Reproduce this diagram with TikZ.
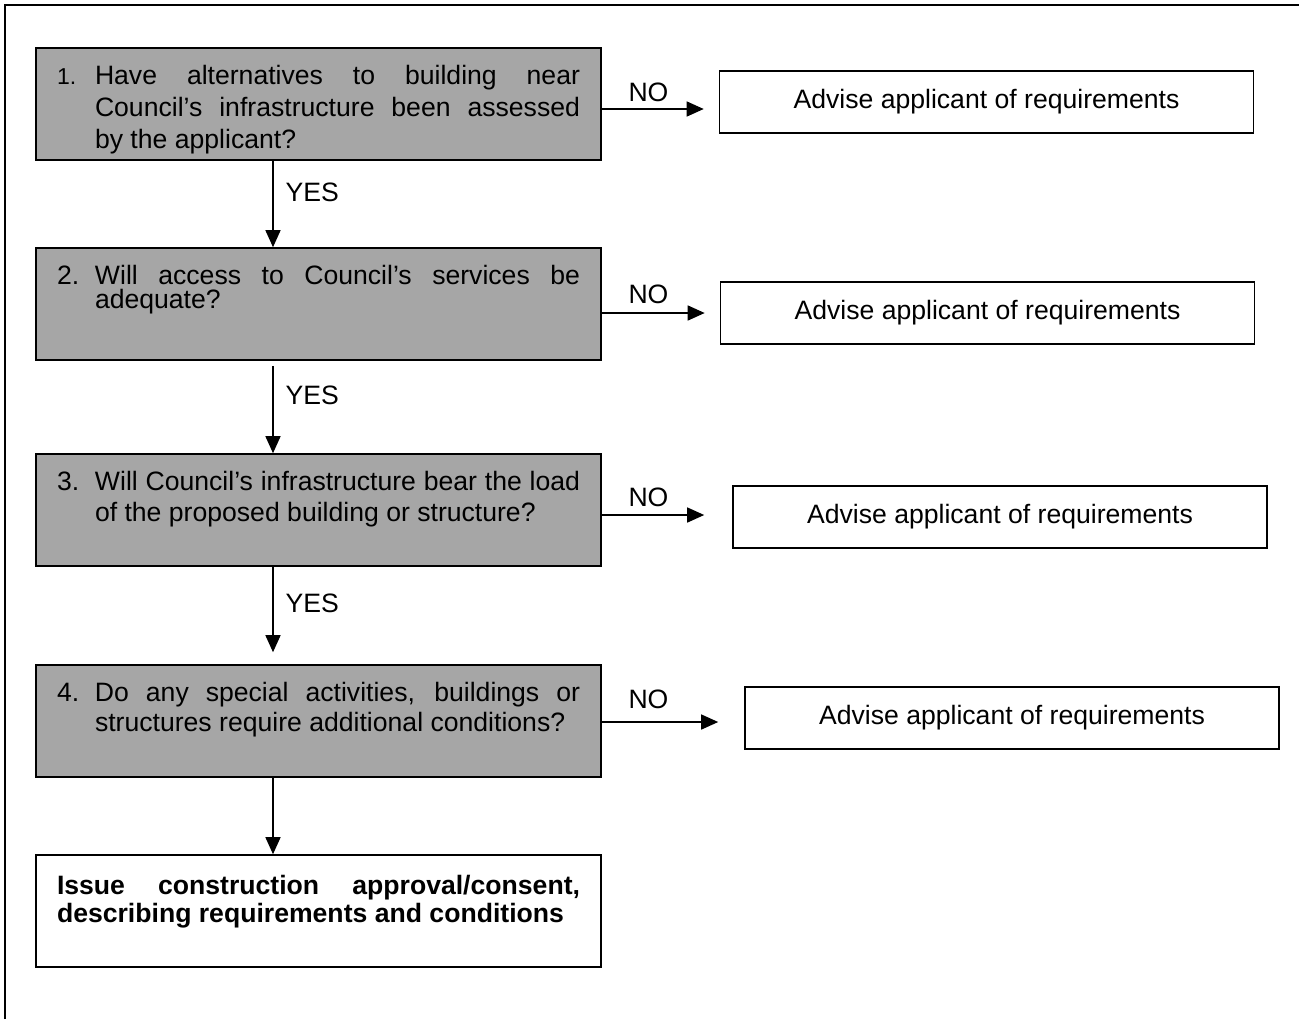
\documentclass[tikz,border=0pt]{standalone}
\usepackage{fontspec}
\setmainfont{Liberation Sans}
\usetikzlibrary{arrows.meta}
\definecolor{qgrey}{RGB}{166,166,166}
\tikzset{>={Triangle[length=8.5pt,width=7.5pt]}}
\tikzset{
  question/.style = {draw, line width=0.8pt, fill=qgrey, inner xsep=10.5pt, inner ysep=8.25pt},
  advise/.style = {draw, line width=0.8pt, minimum width=267pt, minimum height=31pt, inner sep=0pt},
  flow/.style = {->, line width=0.7pt},
  answer/.style = {inner sep=0pt}
}
% #1 line spacing, #2 number, #3 question
\newcommand{\qtext}[3]{%
  \parbox[c][39.5pt][t]{261.5pt}{\fontsize{13.3}{#1}\selectfont
    \hangindent=19pt\hangafter=1
    \rule{0pt}{10pt}\makebox[19pt][l]{#2}#3}}

\begin{document}
\begin{tikzpicture}[x=0.5pt,y=-0.5pt,font=\fontsize{13.3}{16}\selectfont]
  \useasboundingbox (0,0) rectangle (1299,1019);
  % frame
  \draw[line width=1pt] (5,1019) -- (5,5) -- (1299,5);
  % questions
  \node[question] (q1) at (318.5,104) {\qtext{16pt}{{\fontsize{11.5}{16}\selectfont 1.}}{Have alternatives to building near\linebreak Council’s infrastructure been assessed\linebreak by the applicant?}};
  \node[question] (q2) at (318.5,304) {\qtext{12pt}{2.}{Will access to Council’s services be\linebreak adequate?}};
  \node[question] (q3) at (318.5,510) {\qtext{15.5pt}{3.}{Will Council’s infrastructure bear the load\linebreak of the proposed building or structure?}};
  \node[question] (q4) at (318.5,721) {\qtext{15pt}{4.}{Do any special activities, buildings or\linebreak structures require additional conditions?}};
  \node[question, fill=white] (issue) at (318.5,911) {\parbox[c][39.5pt][t]{261.5pt}{\bfseries\fontsize{13.3}{14pt}\selectfont
    \rule{0pt}{11.5pt}Issue construction approval/consent,\linebreak describing requirements and conditions}};
  % advice boxes
  \node[advise] (adv1) at (986.5,102) {Advise applicant of requirements};
  \node[advise] (adv2) at (987.5,313) {Advise applicant of requirements};
  \node[advise] (adv3) at (1000,517) {Advise applicant of requirements};
  \node[advise] (adv4) at (1012,718) {Advise applicant of requirements};
  % NO branches
  \foreach \i/\y/\gap/\lift in {1/109/7.5/3.25, 2/313/7.5/4.25, 3/515/14/3.75, 4/722/13/6.25} {
    \coordinate (n\i) at (q\i.east |- 0,\y);
    \draw[flow, shorten >=\gap pt] (n\i) -- (n\i -| adv\i.west)
      node[answer, pos=0, anchor=south west, xshift=13pt, yshift=\lift pt] {NO};
  }
  % YES branches
  \coordinate (spine) at (273,0);
  \foreach \i/\j/\pre/\post in {1/2/0/0, 2/3/2.5/0, 3/4/0/6} {
    \draw[flow, shorten <=\pre pt, shorten >=\post pt] (q\i.south -| spine) -- (q\j.north -| spine)
      node[answer, pos=0.37, anchor=west, xshift=6pt] {YES};
  }
  \draw[flow] (q4.south -| spine) -- (issue.north -| spine);
\end{tikzpicture}
\end{document}
